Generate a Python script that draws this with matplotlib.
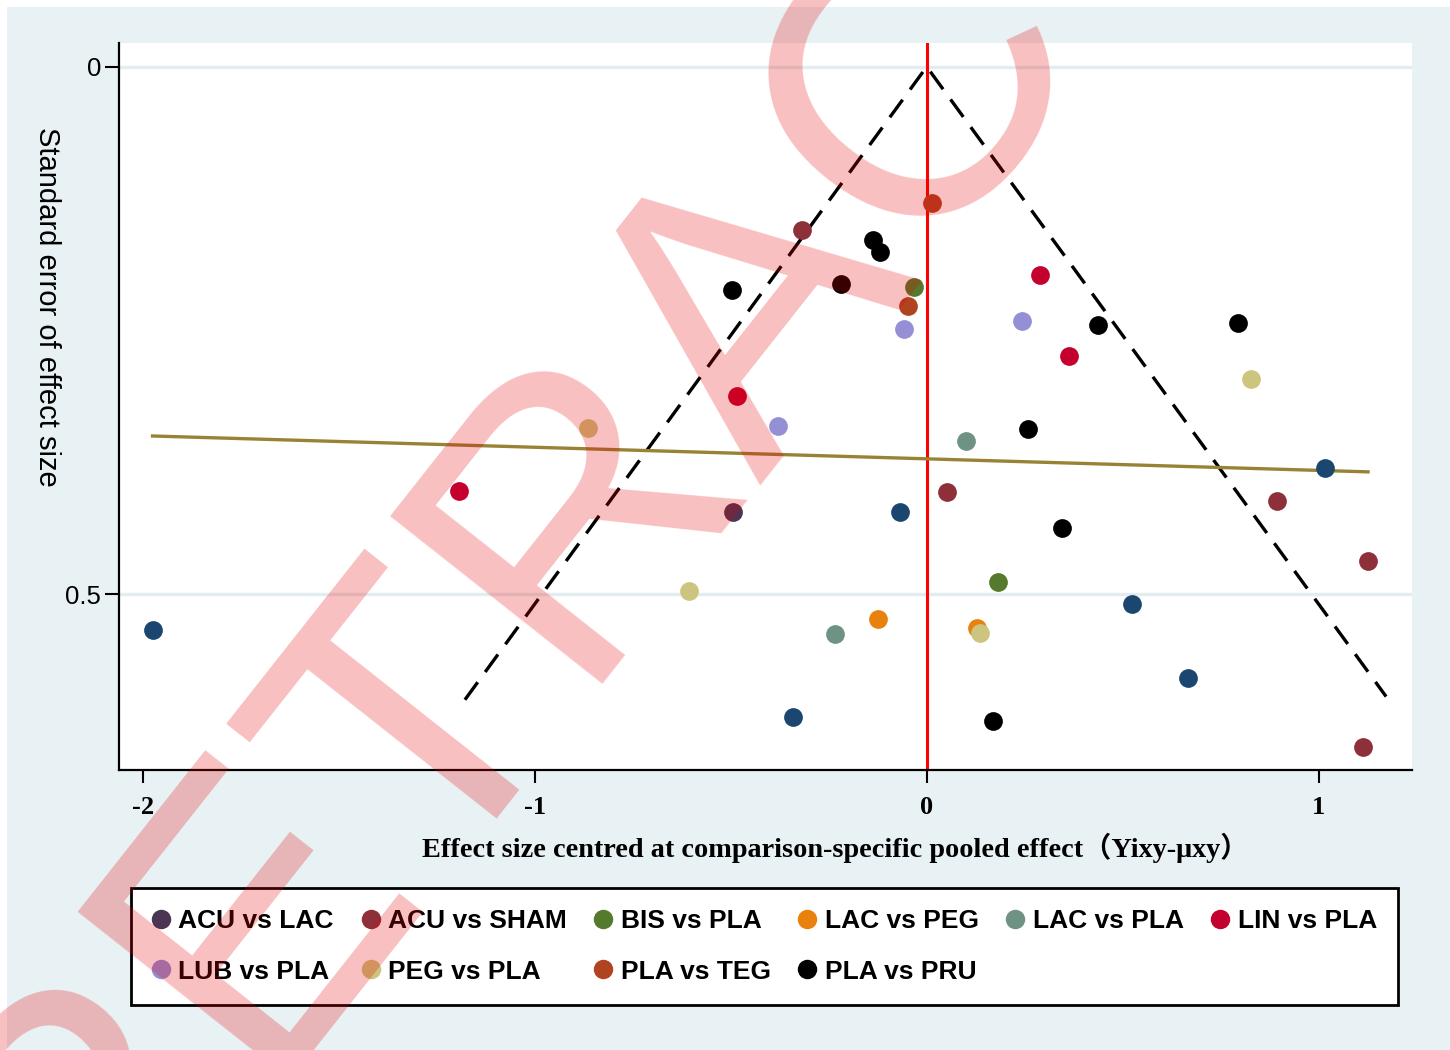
import matplotlib
matplotlib.use("Agg")
import matplotlib.pyplot as plt
from matplotlib.patches import Rectangle
from matplotlib.lines import Line2D

# comparison groups (x = centred effect size, y = standard error)
acu_lac_x = [-0.494]
acu_lac_y = [0.4225]
acu_sham_x = [-0.317, 0.052, 0.894, 1.126, 1.114]
acu_sham_y = [0.155, 0.403, 0.412, 0.4685, 0.6445]
bis_pla_x = [0.183, -0.033]
bis_pla_y = [0.488, 0.209]
lac_peg_x = [-0.123, 0.128]
lac_peg_y = [0.523, 0.532]
lac_pla_x = [0.101, -0.235]
lac_pla_y = [0.355, 0.538]
lin_pla_x = [0.289, 0.364, -0.484, -1.194]
lin_pla_y = [0.197, 0.274, 0.312, 0.402]
lub_pla_x = [-0.058, 0.243, -0.380]
lub_pla_y = [0.249, 0.241, 0.341]
peg_pla_x = [-0.865, -0.607, 0.136, 0.827]
peg_pla_y = [0.342, 0.497, 0.5365, 0.296]
pla_teg_x = [0.0135, -0.047]
pla_teg_y = [0.129, 0.227]
pla_pru_x = [-0.138, -0.119, -0.496, -0.218, 0.436, 0.258, 0.345, 0.794, 0.170]
pla_pru_y = [0.164, 0.176, 0.212, 0.206, 0.245, 0.343, 0.437, 0.243, 0.620]
other_x = [-1.975, -0.067, 1.015, 0.523, 0.666, -0.341]
other_y = [0.534, 0.4218, 0.380, 0.5096, 0.579, 0.616]

labels = ["ACU vs LAC", "ACU vs SHAM", "BIS vs PLA", "LAC vs PEG", "LAC vs PLA",
          "LIN vs PLA", "LUB vs PLA", "PEG vs PLA", "PLA vs TEG", "PLA vs PRU"]
colors = ["#4b3552", "#8e3039", "#557a2e", "#e8820c", "#6e9283",
          "#c4002f", "#958fd6", "#cdc47f", "#b04320", "#000000"]
xs = [acu_lac_x, acu_sham_x, bis_pla_x, lac_peg_x, lac_pla_x,
      lin_pla_x, lub_pla_x, peg_pla_x, pla_teg_x, pla_pru_x]
ys = [acu_lac_y, acu_sham_y, bis_pla_y, lac_peg_y, lac_pla_y,
      lin_pla_y, lub_pla_y, peg_pla_y, pla_teg_y, pla_pru_y]

# funnel (pseudo 95% limits) and fitted line
funnel_x = [-1.178, 0.0, 1.172]
funnel_y = [0.600, 0.0, 0.597]
reg_x = [-1.975, 1.126]
reg_y = [0.350, 0.384]

BG = "#e8f1f3"
fig = plt.figure(figsize=(14.5, 10.5), dpi=100, facecolor="white")
fig.patches.append(Rectangle((7 / 1450, 0), 1, 1 - 7 / 1050, transform=fig.transFigure,
                             facecolor=BG, edgecolor="none", zorder=-10))

ax = fig.add_axes([119 / 1450, 1 - 770 / 1050, (1412 - 119) / 1450, (770 - 43) / 1050])
ax.set_facecolor("white")
ax.set_xlim(-2.0605, 1.238)
ax.set_ylim(0.6666, -0.0225)

for s in ["top", "right"]:
    ax.spines[s].set_visible(False)
for s in ["left", "bottom"]:
    ax.spines[s].set_linewidth(1.6)

ax.set_yticks([0, 0.5])
ax.set_yticklabels(["0", "0.5"], fontsize=18.5, family="Liberation Sans")
ax.set_xticks([-2, -1, 0, 1])
ax.set_xticklabels(["-2", "-1", "0", "1"], fontsize=19, family="Liberation Serif",
                   fontweight="bold")
ax.tick_params(axis="y", length=10, width=1.5, pad=3)
ax.tick_params(axis="x", length=9, width=1.5, pad=10)
for yv in [0, 0.5]:
    ax.axhline(yv, color="#e3edf0", lw=2.4, zorder=0)

ax.axvline(0, color="#ff0000", lw=2.2, zorder=2)
ax.plot(funnel_x, funnel_y, color="black", lw=2.4, ls=(0, (6.5, 3.8)), zorder=2)
ax.plot(reg_x, reg_y, color="#9a8235", lw=2.4, zorder=2)

ax.plot(other_x, other_y, "o", color="#1b4670", ms=13.5, mec="none", zorder=3)
handles = []
for x, y, c, lbl in zip(xs, ys, colors, labels):
    ax.plot(x, y, "o", color=c, ms=13.5, mec="none", zorder=3)
    handles.append(Line2D([], [], ls="none", marker="o", color=c, ms=14, mec="none",
                          label=lbl))

fig.text(47 / 1450, 1 - 307 / 1050, "Standard error of effect size", rotation=-90,
         ha="center", va="center", fontsize=21, family="Liberation Sans")
fig.text(835 / 1450, 1 - 848 / 1050,
         "Effect size centred at comparison-specific pooled effect（Yixy-μxy）",
         ha="center", va="center", fontsize=20.3, fontweight="bold",
         family=["Liberation Serif", "Noto Sans CJK SC"])

# legend filled column-major -> reorder so rows read like the original
order = [0, 6, 1, 7, 2, 8, 3, 9, 4, 5]
leg = fig.legend([handles[i] for i in order], [labels[i] for i in order],
                 loc="center", bbox_to_anchor=(131 / 1450, 0.0986, 1267 / 1450, 0.0),
                 mode="expand", borderaxespad=0, ncol=6,
                 prop={"family": "Liberation Sans", "weight": "bold", "size": 19},
                 handlelength=0.7, handletextpad=0.3, columnspacing=0.8,
                 labelspacing=1.0, borderpad=0.8, fancybox=False, framealpha=1)
leg.get_frame().set_edgecolor("black")
leg.get_frame().set_linewidth(2)

# watermark
fig.text(82 / 1450, 1 - 1303 / 1050, "RETRACTED", rotation=51.7, rotation_mode="anchor",
         ha="left", va="baseline", fontsize=284, family="Liberation Sans",
         color=(0.9, 0, 0), alpha=0.25, zorder=20)

fig.savefig("out.png", dpi=100, facecolor=fig.get_facecolor())
